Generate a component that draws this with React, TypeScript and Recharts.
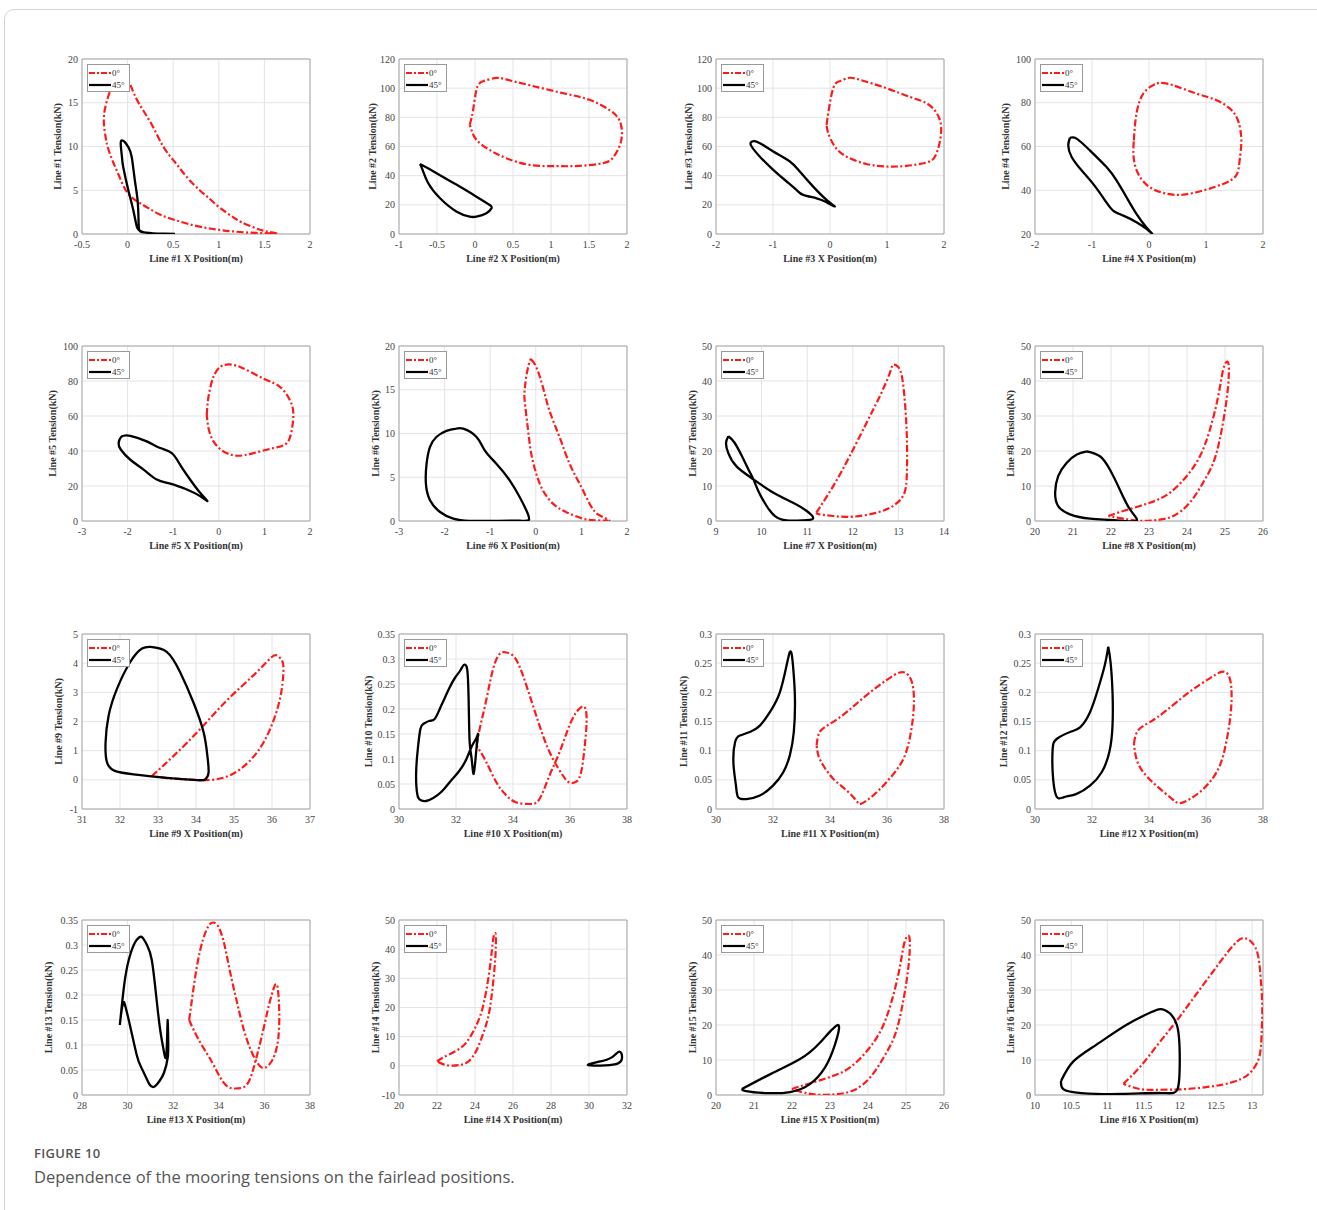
import React from 'react';
import { LineChart, Line, XAxis, YAxis, CartesianGrid, ReferenceArea, Legend } from 'recharts';

type Pt = [number, number];

// ---- loops: [x position (m), tension (kN)] ----
const line1Deg0: Pt[] = [[1.64,0.05],[1.5,0.35],[1.38,0.76],[1.25,1.35],[1.16,1.9],[1.0,3.1],[0.88,4.2],[0.79,5.0],[0.65,6.5],[0.52,8.2],[0.39,10],[0.26,12.6],[0.12,15],[0.04,16.8],[-0.01,17.8],[-0.07,18.1],[-0.15,17.2],[-0.21,15.8],[-0.25,14.2],[-0.26,12.6],[-0.24,11],[-0.22,10],[-0.17,8.5],[-0.1,6.8],[-0.02,5.0],[0.08,3.9],[0.21,3.06],[0.36,2.2],[0.54,1.53],[0.74,0.95],[0.94,0.57],[1.15,0.3],[1.4,0.12],[1.64,0.05]];
const line1Deg45: Pt[] = [[0.52,0.02],[0.4,0.04],[0.28,0.08],[0.18,0.18],[0.13,0.4],[0.12,1.5],[0.11,3.8],[0.08,6.1],[0.045,8.8],[0.01,9.9],[-0.03,10.5],[-0.065,10.7],[-0.075,10.2],[-0.06,8.6],[-0.047,7.6],[0.008,5.0],[0.063,2.7],[0.1,0.9],[0.14,0.35],[0.22,0.12],[0.35,0.05],[0.52,0.02]];

const line2Deg0: Pt[] = [[-0.069,74.9],[-0.025,85],[0.019,99],[0.106,104.7],[0.28,107],[0.41,106],[0.72,102],[1.156,96.6],[1.505,92],[1.77,85],[1.9,78],[1.934,69],[1.9,60],[1.81,52],[1.68,48.5],[1.37,46.7],[1.07,46.5],[0.72,47.4],[0.41,52],[0.19,57.7],[0.019,64.6],[-0.047,71.4],[-0.069,74.9]];
const line2Deg45: Pt[] = [[-0.724,48],[-0.6,44.5],[-0.506,41.7],[-0.24,33.7],[0.019,25.6],[0.194,19.9],[0.216,17.6],[0.15,14.2],[0.019,11.9],[-0.07,11.9],[-0.24,15.3],[-0.46,24.5],[-0.615,34.8],[-0.69,44],[-0.724,48]];

const line3Deg0: Pt[] = [[-0.06,74.9],[-0.03,83],[0.056,100],[0.17,104.7],[0.32,107],[0.52,105.8],[0.99,100],[1.4,94],[1.69,89.8],[1.87,83],[1.95,73.7],[1.92,62],[1.84,53],[1.69,49],[1.34,46.7],[0.99,46.3],[0.64,48],[0.29,53],[0.085,60],[-0.03,69],[-0.06,74.9]];
const line3Deg45: Pt[] = [[-1.35,63.8],[-1.23,62.3],[-0.996,56.6],[-0.704,49.7],[-0.53,42.8],[-0.295,32.5],[-0.06,23.4],[0.085,18.8],[-0.06,21.8],[-0.236,24.5],[-0.47,26.8],[-0.587,30.2],[-0.76,36],[-0.996,44],[-1.23,53],[-1.375,60],[-1.39,62.7],[-1.35,63.8]];

const line4Deg0: Pt[] = [[-0.266,62.8],[-0.22,75],[-0.1,84.2],[0.073,88],[0.19,89.1],[0.42,88],[0.83,84.2],[1.18,81.2],[1.416,77.4],[1.56,72],[1.62,62.8],[1.59,53.7],[1.53,46.8],[1.3,42.9],[0.95,39.9],[0.6,38],[0.31,38.4],[0.015,41.4],[-0.19,47.5],[-0.27,55.2],[-0.266,62.8]];
const line4Deg45: Pt[] = [[-1.387,64],[-1.27,63.6],[-1.036,58.2],[-0.745,50.6],[-0.57,44.5],[-0.394,36.8],[-0.22,29.2],[-0.044,23],[0.06,20],[-0.044,22.3],[-0.22,25.4],[-0.45,28.4],[-0.63,30.7],[-0.77,35.3],[-0.98,42.9],[-1.18,49],[-1.357,55.2],[-1.416,60.5],[-1.387,64]];

const line5Deg0: Pt[] = [[-0.263,60.6],[-0.226,71],[-0.117,82.4],[0.029,88],[0.175,89.4],[0.467,88],[0.978,81.4],[1.34,76.7],[1.56,69],[1.635,61.5],[1.6,52],[1.49,44.5],[1.2,41.7],[0.76,38.8],[0.4,37.3],[0.1,39.8],[-0.117,45.5],[-0.226,53],[-0.263,60.6]];
const line5Deg45: Pt[] = [[-2.088,48.7],[-1.94,48.7],[-1.58,45.5],[-1.285,41.7],[-1.03,38.8],[-0.85,32.2],[-0.63,23.7],[-0.41,16.1],[-0.25,11.4],[-0.41,14.2],[-0.7,18],[-1.066,21.4],[-1.36,23.7],[-1.65,29.4],[-1.94,35],[-2.146,40.7],[-2.197,44.5],[-2.146,47.9],[-2.088,48.7]];

const line6Deg0: Pt[] = [[-0.099,18.44],[0.01,17.6],[0.156,15.3],[0.3,12.6],[0.52,9.6],[0.74,6.55],[0.96,4.27],[1.18,1.98],[1.395,0.65],[1.61,0.08],[1.32,0.08],[1.03,0.27],[0.66,1.03],[0.375,1.98],[0.156,3.5],[0.01,5.4],[-0.1,7.7],[-0.17,10.4],[-0.245,13.8],[-0.245,14.9],[-0.21,16.5],[-0.136,18.2],[-0.099,18.44]];
const line6Deg45: Pt[] = [[-1.74,10.55],[-1.59,10.55],[-1.3,9.6],[-1.12,8.08],[-0.865,6.55],[-0.573,4.65],[-0.354,2.74],[-0.208,1.22],[-0.15,0.15],[-0.354,0.03],[-0.865,0.02],[-1.45,0.02],[-1.81,0.27],[-2.1,1.03],[-2.32,2.36],[-2.41,4.27],[-2.395,6.55],[-2.32,8.46],[-2.18,9.6],[-1.96,10.3],[-1.74,10.55]];

const line7Deg0: Pt[] = [[11.2,2.37],[11.57,9.96],[11.93,18.5],[12.3,28],[12.59,35.6],[12.81,42.2],[12.88,44.6],[12.99,44.1],[13.09,40.3],[13.16,30.8],[13.19,21.3],[13.18,11.9],[13.1,7.1],[12.88,4.27],[12.52,2.37],[12.0,1.23],[11.57,1.42],[11.27,1.9],[11.2,2.37]];
const line7Deg45: Pt[] = [[9.27,24.2],[9.4,22.5],[9.57,18.5],[9.72,14.5],[9.82,11.9],[9.93,8.5],[10.1,4.5],[10.3,1.3],[10.55,0.15],[10.9,0.15],[11.13,0.7],[10.99,2.85],[10.69,5.2],[10.26,8.07],[9.82,11.9],[9.45,15.6],[9.27,19.4],[9.22,22.3],[9.27,24.2]];

const line8Deg0: Pt[] = [[21.93,1.42],[22.32,2.85],[23.02,5.2],[23.55,8.07],[23.99,12.8],[24.34,18.5],[24.6,26],[24.82,35.6],[24.95,43.2],[25.05,45.5],[25.1,44.1],[25.08,38.4],[24.99,30.8],[24.86,23.2],[24.69,16.6],[24.42,10.9],[24.07,5.2],[23.64,1.42],[23.2,0.28],[22.76,0.05],[22.32,0.66],[21.93,1.42]];
const line8Deg45: Pt[] = [[21.36,19.9],[21.71,18.5],[21.97,14.7],[22.23,9.0],[22.5,3.3],[22.67,0.05],[22.15,0.2],[21.45,0.66],[20.92,1.9],[20.61,4.27],[20.53,8.07],[20.61,12.8],[20.83,16.6],[21.1,19],[21.36,19.9]];

const line9Deg0: Pt[] = [[32.84,0.13],[33.41,0.82],[34.11,1.74],[34.81,2.72],[35.51,3.58],[35.95,4.16],[36.12,4.27],[36.26,4.1],[36.3,3.7],[36.21,2.78],[35.95,1.74],[35.6,0.93],[35.16,0.36],[34.72,0.07],[34.28,-0.01],[33.85,0.01],[33.23,0.06],[32.84,0.13]];
const line9Deg45: Pt[] = [[32.8,4.56],[33.23,4.39],[33.58,3.7],[33.93,2.66],[34.2,1.63],[34.3,0.82],[34.33,0.24],[34.24,0.01],[34.02,-0.01],[33.23,0.07],[32.36,0.19],[31.88,0.3],[31.66,0.59],[31.62,1.28],[31.7,2.2],[31.92,3.12],[32.27,4.04],[32.58,4.5],[32.8,4.56]];

const line10Deg0: Pt[] = [[32.72,0.127],[32.83,0.16],[33.07,0.22],[33.3,0.28],[33.53,0.31],[33.77,0.313],[34.06,0.303],[34.35,0.267],[34.7,0.207],[35.05,0.147],[35.4,0.1],[35.75,0.067],[35.98,0.053],[36.27,0.057],[36.45,0.093],[36.57,0.16],[36.57,0.193],[36.48,0.205],[36.27,0.197],[35.98,0.167],[35.63,0.113],[35.28,0.067],[34.93,0.02],[34.58,0.01],[34.12,0.013],[33.77,0.027],[33.42,0.053],[33.07,0.093],[32.83,0.117],[32.72,0.127]];
const line10Deg45: Pt[] = [[32.78,0.152],[32.7,0.11],[32.62,0.07],[32.55,0.1],[32.48,0.133],[32.45,0.2],[32.42,0.26],[32.37,0.285],[32.27,0.288],[32.15,0.277],[31.96,0.262],[31.75,0.24],[31.55,0.215],[31.43,0.2],[31.25,0.18],[31.05,0.176],[30.85,0.17],[30.75,0.16],[30.66,0.12],[30.6,0.07],[30.64,0.03],[30.75,0.018],[30.95,0.016],[31.2,0.022],[31.5,0.035],[31.8,0.055],[32.1,0.075],[32.35,0.098],[32.55,0.125],[32.7,0.14],[32.78,0.152]];

const line11Deg0: Pt[] = [[33.53,0.109],[33.64,0.132],[34.0,0.146],[34.58,0.166],[35.28,0.195],[35.98,0.221],[36.45,0.234],[36.74,0.23],[36.92,0.207],[36.92,0.161],[36.74,0.109],[36.45,0.075],[35.98,0.046],[35.51,0.023],[35.1,0.009],[34.93,0.014],[34.58,0.032],[34.11,0.052],[33.76,0.075],[33.59,0.092],[33.53,0.109]];
const line11Deg45: Pt[] = [[32.59,0.27],[32.48,0.247],[32.24,0.2],[31.89,0.166],[31.54,0.143],[31.19,0.132],[30.84,0.126],[30.67,0.115],[30.61,0.08],[30.7,0.04],[30.78,0.02],[31.07,0.017],[31.54,0.023],[32.0,0.04],[32.36,0.063],[32.59,0.092],[32.73,0.132],[32.77,0.189],[32.71,0.241],[32.65,0.267],[32.59,0.27]];

const line12Deg0: Pt[] = [[33.47,0.112],[33.62,0.135],[34.03,0.149],[34.61,0.169],[35.43,0.201],[36.13,0.224],[36.54,0.235],[36.78,0.23],[36.89,0.207],[36.86,0.161],[36.66,0.103],[36.37,0.063],[35.9,0.034],[35.43,0.017],[35.08,0.01],[34.79,0.018],[34.26,0.04],[33.8,0.063],[33.56,0.086],[33.47,0.112]];
const line12Deg45: Pt[] = [[32.57,0.278],[32.45,0.247],[32.22,0.207],[31.93,0.166],[31.58,0.14],[31.23,0.132],[30.76,0.12],[30.62,0.103],[30.62,0.063],[30.74,0.023],[31.0,0.02],[31.46,0.026],[31.93,0.04],[32.34,0.063],[32.61,0.098],[32.72,0.143],[32.72,0.2],[32.65,0.252],[32.57,0.278]];

const line13Deg0: Pt[] = [[32.7,0.15],[32.85,0.2],[33.05,0.26],[33.3,0.31],[33.55,0.338],[33.76,0.345],[34.0,0.335],[34.25,0.3],[34.5,0.245],[34.8,0.185],[35.1,0.13],[35.45,0.085],[35.8,0.058],[36.05,0.055],[36.35,0.07],[36.6,0.11],[36.65,0.17],[36.58,0.215],[36.5,0.222],[36.42,0.215],[36.2,0.18],[35.95,0.13],[35.65,0.075],[35.35,0.03],[35.05,0.015],[34.7,0.013],[34.35,0.018],[34.0,0.04],[33.65,0.07],[33.25,0.1],[32.9,0.13],[32.7,0.15]];
const line13Deg45: Pt[] = [[29.66,0.14],[29.85,0.22],[30.05,0.27],[30.3,0.303],[30.5,0.315],[30.65,0.315],[30.85,0.3],[31.06,0.27],[31.25,0.2],[31.4,0.14],[31.5,0.11],[31.6,0.085],[31.68,0.075],[31.73,0.11],[31.76,0.15],[31.78,0.11],[31.76,0.075],[31.6,0.045],[31.4,0.028],[31.14,0.016],[30.95,0.022],[30.84,0.032],[30.6,0.055],[30.4,0.08],[30.1,0.14],[29.9,0.178],[29.83,0.185],[29.74,0.17],[29.66,0.14]];

const line14Deg0: Pt[] = [[22.0,1.5],[22.32,2.85],[23.02,5.2],[23.55,8.07],[23.99,12.8],[24.34,18.5],[24.6,26],[24.82,35.6],[24.95,43.2],[25.05,45.5],[25.1,44.1],[25.08,38.4],[24.99,30.8],[24.86,23.2],[24.69,16.6],[24.42,10.9],[24.07,5.2],[23.64,1.42],[23.2,0.28],[22.76,0.05],[22.35,0.5],[22.0,1.5]];
const line14Deg45: Pt[] = [[29.96,0.5],[30.59,1.5],[31.2,2.9],[31.6,4.9],[31.74,2.9],[31.53,0.85],[30.85,0.17],[30.06,0.17],[29.96,0.5]];

const line15Deg0: Pt[] = [[22.0,1.7],[22.32,2.85],[23.02,5.2],[23.55,8.07],[23.99,12.8],[24.34,18.5],[24.6,26],[24.82,35.6],[24.95,43.2],[25.05,45.5],[25.1,44.1],[25.08,38.4],[24.99,30.8],[24.86,23.2],[24.69,16.6],[24.42,10.9],[24.07,5.2],[23.64,1.42],[23.2,0.28],[22.76,0.05],[22.35,0.6],[22.0,1.7]];
const line15Deg45: Pt[] = [[20.68,1.7],[21.42,5.9],[22.2,10.2],[22.74,15],[23.21,20],[23.13,14.4],[22.87,7.9],[22.47,3.1],[21.95,0.85],[21.29,0.56],[20.79,1.1],[20.68,1.7]];

const line16Deg0: Pt[] = [[11.22,3.2],[11.45,8],[11.7,14.5],[11.95,21],[12.2,28],[12.45,35],[12.65,40.5],[12.8,44],[12.9,44.8],[13.0,43.5],[13.08,40],[13.12,33],[13.14,25],[13.13,17],[13.1,11],[13.0,7],[12.85,4.6],[12.6,3],[12.3,2.1],[12.0,1.6],[11.7,1.5],[11.45,1.7],[11.22,3.2]];
const line16Deg45: Pt[] = [[10.36,4],[10.53,9.6],[10.85,14.4],[11.26,20],[11.61,23.7],[11.79,24.3],[11.96,20],[12.0,10.2],[11.97,1.7],[11.75,0.56],[11.19,0.3],[10.64,0.56],[10.39,1.7],[10.36,4]];

// ---- axis ticks ----
const xTicksA = [-0.5, 0, 0.5, 1, 1.5, 2];
const xTicksB = [-1, -0.5, 0, 0.5, 1, 1.5, 2];
const xTicksC = [-2, -1, 0, 1, 2];
const xTicksD = [-3, -2, -1, 0, 1, 2];
const xTicks7 = [9, 10, 11, 12, 13, 14];
const xTicks8 = [20, 21, 22, 23, 24, 25, 26];
const xTicks9 = [31, 32, 33, 34, 35, 36, 37];
const xTicks10 = [30, 32, 34, 36, 38];
const xTicks13 = [28, 30, 32, 34, 36, 38];
const xTicks14 = [20, 22, 24, 26, 28, 30, 32];
const xTicks16 = [10, 10.5, 11, 11.5, 12, 12.5, 13];

const yTicks20 = [0, 5, 10, 15, 20];
const yTicks120 = [0, 20, 40, 60, 80, 100, 120];
const yTicks4 = [20, 40, 60, 80, 100];
const yTicks100 = [0, 20, 40, 60, 80, 100];
const yTicks50 = [0, 10, 20, 30, 40, 50];
const yTicks9 = [-1, 0, 1, 2, 3, 4, 5];
const yTicks035 = [0, 0.05, 0.1, 0.15, 0.2, 0.25, 0.3, 0.35];
const yTicks03 = [0, 0.05, 0.1, 0.15, 0.2, 0.25, 0.3];
const yTicks14 = [-10, 0, 10, 20, 30, 40, 50];

interface Panel {
  n: number;
  deg0: Pt[];
  deg45: Pt[];
  xTicks: number[];
  xMax?: number;
  yTicks: number[];
  gap: number;
}

const panels: Panel[] = [
  { n: 1, deg0: line1Deg0, deg45: line1Deg45, xTicks: xTicksA, yTicks: yTicks20, gap: 25 },
  { n: 2, deg0: line2Deg0, deg45: line2Deg45, xTicks: xTicksB, yTicks: yTicks120, gap: 27 },
  { n: 3, deg0: line3Deg0, deg45: line3Deg45, xTicks: xTicksC, yTicks: yTicks120, gap: 28 },
  { n: 4, deg0: line4Deg0, deg45: line4Deg45, xTicks: xTicksC, yTicks: yTicks4, gap: 30 },
  { n: 5, deg0: line5Deg0, deg45: line5Deg45, xTicks: xTicksD, yTicks: yTicks100, gap: 30 },
  { n: 6, deg0: line6Deg0, deg45: line6Deg45, xTicks: xTicksD, yTicks: yTicks20, gap: 24 },
  { n: 7, deg0: line7Deg0, deg45: line7Deg45, xTicks: xTicks7, yTicks: yTicks50, gap: 24 },
  { n: 8, deg0: line8Deg0, deg45: line8Deg45, xTicks: xTicks8, yTicks: yTicks50, gap: 25 },
  { n: 9, deg0: line9Deg0, deg45: line9Deg45, xTicks: xTicks9, yTicks: yTicks9, gap: 24 },
  { n: 10, deg0: line10Deg0, deg45: line10Deg45, xTicks: xTicks10, yTicks: yTicks035, gap: 31 },
  { n: 11, deg0: line11Deg0, deg45: line11Deg45, xTicks: xTicks10, yTicks: yTicks03, gap: 33 },
  { n: 12, deg0: line12Deg0, deg45: line12Deg45, xTicks: xTicks10, yTicks: yTicks03, gap: 32 },
  { n: 13, deg0: line13Deg0, deg45: line13Deg45, xTicks: xTicks13, yTicks: yTicks035, gap: 34 },
  { n: 14, deg0: line14Deg0, deg45: line14Deg45, xTicks: xTicks14, yTicks: yTicks14, gap: 24 },
  { n: 15, deg0: line15Deg0, deg45: line15Deg45, xTicks: xTicks8, yTicks: yTicks50, gap: 24 },
  { n: 16, deg0: line16Deg0, deg45: line16Deg45, xTicks: xTicks16, xMax: 13.15, yTicks: yTicks50, gap: 25 },
];

const COL_LEFT = [82, 399, 716, 1035];
const ROW_TOP = [59, 346, 634, 920];
const PLOT_W = 228;
const PLOT_H = 175;
const AX_W = 70;
const AX_H = 47;
const M_TOP = 10;
const M_RIGHT = 14;
const SERIF = '"Liberation Serif", "Times New Roman", serif';
const RED = '#ff1a1a';
const DASH = '7 2.5 2 2.5';

const toRows = (pts: Pt[]) => pts.map(([x, y]) => ({ x, y }));

const XTitle = ({ text }: { text: string }) => (
  <text x={AX_W + PLOT_W / 2} y={M_TOP + PLOT_H + 28} textAnchor="middle" fontFamily={SERIF}
    fontSize={10} fontWeight="bold" fill="#333">{text}</text>
);

const YTitle = ({ text, gap }: { text: string; gap: number }) => {
  const x = AX_W - gap;
  const y = M_TOP + PLOT_H / 2;
  return (
    <text x={x} y={y} transform={`rotate(-90 ${x} ${y})`} textAnchor="middle" dominantBaseline="central"
      fontFamily={SERIF} fontSize={10} fontWeight="bold" fill="#333">{text}</text>
  );
};

const LegendBox = () => (
  <div style={{ width: 43, height: 28, boxSizing: 'border-box', border: '1px solid #999', background: '#fff',
    fontFamily: SERIF, fontSize: 9, color: '#333', paddingTop: 2, paddingLeft: 1 }}>
    <div style={{ display: 'flex', alignItems: 'center', height: 12 }}>
      <svg width={22} height={4} style={{ display: 'block' }}>
        <line x1={0} y1={2} x2={22} y2={2} stroke={RED} strokeWidth={2} strokeDasharray="6 2 2 2" />
      </svg>
      <span style={{ marginLeft: 1 }}>0°</span>
    </div>
    <div style={{ display: 'flex', alignItems: 'center', height: 11 }}>
      <svg width={22} height={4} style={{ display: 'block' }}>
        <line x1={0} y1={2} x2={22} y2={2} stroke="#000" strokeWidth={2.2} />
      </svg>
      <span style={{ marginLeft: 1 }}>45°</span>
    </div>
  </div>
);

const PanelChart = ({ p }: { p: Panel }) => {
  const col = (p.n - 1) % 4;
  const row = Math.floor((p.n - 1) / 4);
  const x0 = p.xTicks[0];
  const x1 = p.xMax ?? p.xTicks[p.xTicks.length - 1];
  const y0 = p.yTicks[0];
  const y1 = p.yTicks[p.yTicks.length - 1];
  const tick = { fontSize: 10, fill: '#444', fontFamily: SERIF };
  return (
    <div style={{ position: 'absolute', left: COL_LEFT[col] - AX_W, top: ROW_TOP[row] - M_TOP }}>
      <LineChart width={AX_W + PLOT_W + M_RIGHT} height={M_TOP + PLOT_H + AX_H}
        margin={{ top: M_TOP, right: M_RIGHT, left: 0, bottom: 0 }}>
        <CartesianGrid stroke="#e4e4e4" strokeWidth={1} />
        <XAxis type="number" dataKey="x" domain={[x0, x1]} ticks={p.xTicks} interval={0} allowDataOverflow
          height={AX_H} tickLine={false} axisLine={false} tickSize={0} tickMargin={7} tick={tick}
          label={<XTitle text={`Line #${p.n} X Position(m)`} />} />
        <YAxis type="number" dataKey="y" domain={[y0, y1]} ticks={p.yTicks} interval={0} allowDataOverflow
          width={AX_W} tickLine={false} axisLine={false} tickSize={0} tickMargin={4} tick={tick}
          label={<YTitle text={`Line #${p.n} Tension(kN)`} gap={p.gap} />} />
        <ReferenceArea x1={x0} x2={x1} y1={y0} y2={y1} fill="none" fillOpacity={0} stroke="#a8a8a8" strokeWidth={1} />
        <Line data={toRows(p.deg0)} dataKey="y" name="0°" type="natural" stroke={RED} strokeWidth={2.2}
          strokeDasharray={DASH} dot={false} activeDot={false} isAnimationActive={false} />
        <Line data={toRows(p.deg45)} dataKey="y" name="45°" type="natural" stroke="#000" strokeWidth={2.3}
          dot={false} activeDot={false} isAnimationActive={false} />
        <Legend layout="vertical" align="center" verticalAlign="middle" content={<LegendBox />}
          wrapperStyle={{ left: AX_W + 5, top: M_TOP + 5, width: 'auto', height: 'auto' }} />
      </LineChart>
    </div>
  );
};

export default function App() {
  return (
    <div style={{ position: 'absolute', left: 0, top: 0, width: 1317, height: 1210, background: '#fff', overflow: 'hidden' }}>
      <div style={{ position: 'absolute', left: 4, top: 9, width: 1400, height: 1300, border: '1px solid #d4d4d4', borderRadius: 10 }} />
      {panels.map((p) => <PanelChart key={p.n} p={p} />)}
      <div style={{ position: 'absolute', left: 34, top: 1144, fontFamily: '"Open Sans", sans-serif', fontSize: 13,
        fontWeight: 600, color: '#555', letterSpacing: 0.3 }}>FIGURE 10</div>
      <div style={{ position: 'absolute', left: 34, top: 1165, fontFamily: '"Open Sans", sans-serif', fontSize: 16.5,
        color: '#555' }}>Dependence of the mooring tensions on the fairlead positions.</div>
    </div>
  );
}
